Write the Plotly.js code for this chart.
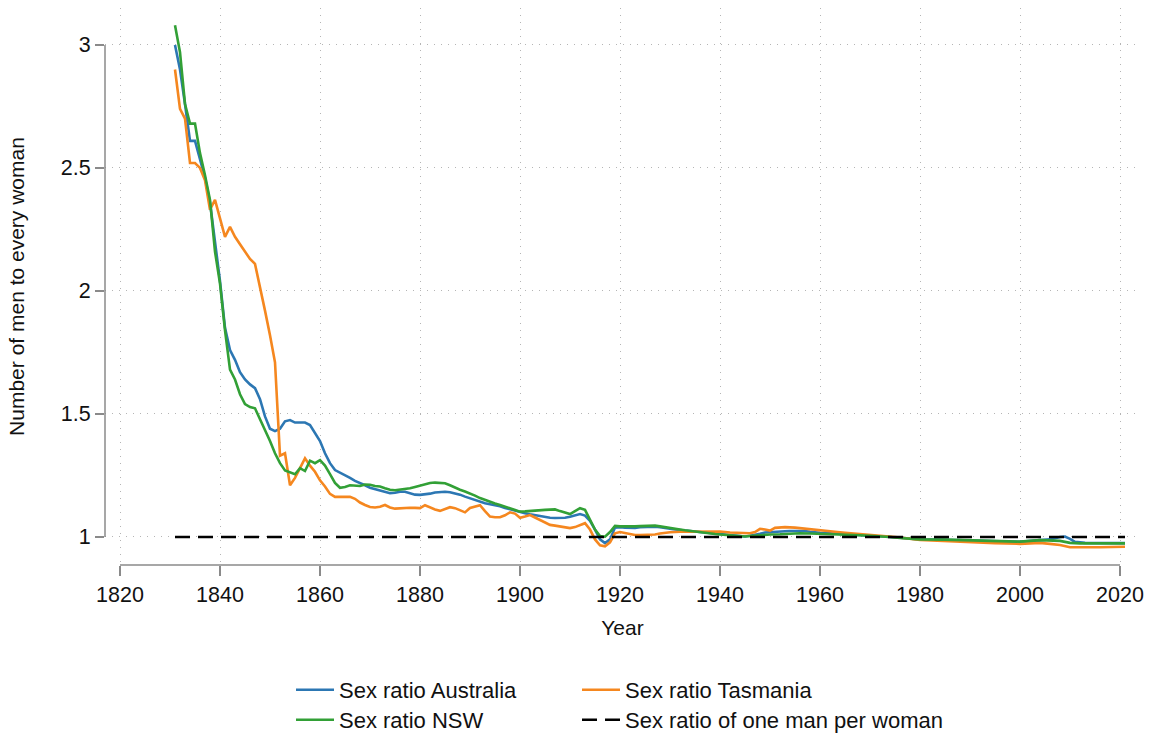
<!DOCTYPE html>
<html>
<head>
<meta charset="utf-8">
<script src="https://cdn.plot.ly/plotly-3.0.1.min.js"></script>
<style>html,body{margin:0;padding:0;background:#fff;}#chart{width:1155px;height:738px;}</style>
</head>
<body>
<div id="chart"></div>
<script>
// ---- Data ----
const ausYears = [1831,1832,1833,1834,1835,1836,1837,1838,1839,1840,1841,1842,1843,1844,1845,1846,1847,1848,1849,1850,
  1851,1852,1853,1854,1855,1856,1857,1858,1859,1860,1861,1862,1863,1864,1865,1866,1867,1868,1869,1870,
  1871,1872,1873,1874,1875,1876,1877,1878,1879,1880,1881,1882,1883,1884,1885,1886,1887,1888,1889,1890,
  1891,1892,1893,1894,1895,1896,1897,1898,1899,1900,1901,1902,1903,1904,1905,1906,1907,1908,1909,1910,
  1911,1912,1913,1914,1915,1916,1917,1918,1919,1920,1921,1922,1923,1924,1925,1926,1927,1928,1929,1930,
  1931,1932,1933,1934,1935,1936,1937,1938,1939,1940,1941,1942,1943,1944,1945,1946,1947,1948,1949,1950,
  1951,1952,1953,1954,1955,1956,1957,1958,1959,1960,1962,1964,1966,1968,1970,1972,1974,1976,1978,1980,
  1985,1990,1995,2000,2004,2006,2008,2009,2010,2011,2013,2016,2021];
const ausRatio = [3.00,2.90,2.76,2.61,2.61,2.54,2.46,2.36,2.20,2.04,1.85,1.76,1.72,1.67,1.64,1.62,1.605,1.56,1.49,1.44,
  1.43,1.44,1.47,1.475,1.465,1.465,1.465,1.455,1.42,1.39,1.34,1.30,1.272,1.262,1.25,1.24,1.228,1.22,1.21,1.20,
  1.195,1.19,1.182,1.178,1.18,1.184,1.184,1.178,1.172,1.171,1.173,1.176,1.181,1.183,1.184,1.182,1.178,1.172,1.164,1.157,
  1.150,1.142,1.137,1.133,1.130,1.125,1.118,1.112,1.106,1.100,1.096,1.092,1.088,1.084,1.080,1.078,1.077,1.076,1.078,1.082,
  1.088,1.093,1.087,1.065,1.030,0.990,0.975,0.990,1.038,1.040,1.038,1.036,1.037,1.040,1.041,1.042,1.042,1.040,1.036,1.033,
  1.030,1.028,1.027,1.025,1.022,1.020,1.018,1.016,1.015,1.013,1.011,1.009,1.006,1.003,1.002,1.005,1.008,1.013,1.018,1.020,
  1.021,1.022,1.023,1.024,1.025,1.026,1.024,1.021,1.018,1.017,1.015,1.013,1.011,1.009,1.006,1.004,1.000,0.997,0.994,0.990,
  0.988,0.986,0.984,0.980,0.987,0.990,1.000,1.002,0.992,0.980,0.976,0.975,0.975];

const tasYears = [1831,1832,1833,1834,1835,1836,1837,1838,1839,1840,1841,1842,1843,1844,1845,1846,1847,1848,1849,1850,
  1851,1852,1853,1854,1855,1856,1857,1858,1859,1860,1861,1862,1863,1864,1865,1866,1867,1868,1869,1870,
  1871,1872,1873,1874,1875,1876,1877,1878,1879,1880,1881,1882,1883,1884,1885,1886,1887,1888,1889,1890,
  1891,1892,1893,1894,1895,1896,1897,1898,1899,1900,1901,1902,1903,1904,1905,1906,1907,1908,1909,1910,
  1911,1912,1913,1914,1915,1916,1917,1918,1919,1920,1921,1922,1923,1924,1925,1926,1927,1928,1929,1930,
  1932,1934,1936,1938,1940,1942,1944,1946,1947,1948,1949,1950,1951,1952,1953,1955,1957,1959,1961,1963,
  1965,1967,1970,1972,1975,1980,1985,1990,1995,2000,2004,2006,2008,2010,2012,2016,2021];
const tasRatio = [2.90,2.74,2.70,2.52,2.52,2.50,2.45,2.33,2.37,2.30,2.22,2.26,2.22,2.19,2.16,2.13,2.11,2.02,1.92,1.82,
  1.71,1.33,1.34,1.21,1.24,1.28,1.32,1.29,1.265,1.23,1.205,1.175,1.163,1.163,1.163,1.163,1.155,1.14,1.13,1.122,
  1.12,1.123,1.13,1.12,1.115,1.117,1.118,1.119,1.118,1.117,1.129,1.12,1.112,1.106,1.112,1.121,1.117,1.108,1.10,1.118,
  1.125,1.129,1.105,1.083,1.080,1.080,1.088,1.10,1.095,1.078,1.083,1.089,1.079,1.069,1.058,1.049,1.046,1.042,1.040,1.036,
  1.040,1.049,1.056,1.030,0.990,0.966,0.962,0.978,1.015,1.020,1.015,1.010,1.008,1.008,1.008,1.008,1.010,1.014,1.018,1.019,
  1.021,1.022,1.022,1.022,1.022,1.018,1.015,1.015,1.020,1.033,1.030,1.026,1.037,1.039,1.040,1.038,1.033,1.028,1.025,1.021,
  1.017,1.014,1.010,1.007,1.000,0.988,0.983,0.980,0.975,0.972,0.976,0.972,0.967,0.958,0.957,0.958,0.960];

const nswYears = [1831,1832,1833,1834,1835,1836,1837,1838,1839,1840,1841,1842,1843,1844,1845,1846,1847,1848,1849,1850,
  1851,1852,1853,1854,1855,1856,1857,1858,1859,1860,1861,1862,1863,1864,1865,1866,1867,1868,1869,1870,
  1871,1872,1873,1874,1875,1876,1877,1878,1879,1880,1881,1882,1883,1884,1885,1886,1887,1888,1889,1890,
  1891,1892,1893,1894,1895,1896,1897,1898,1899,1900,1901,1902,1903,1904,1905,1906,1907,1908,1909,1910,
  1911,1912,1913,1914,1915,1916,1917,1918,1919,1920,1921,1922,1923,1924,1925,1926,1927,1928,1929,1930,
  1931,1932,1933,1934,1935,1936,1937,1938,1939,1940,1941,1942,1943,1944,1945,1946,1947,1948,1950,1952,
  1954,1956,1958,1960,1962,1964,1966,1968,1970,1972,1974,1976,1978,1980,1985,1990,1995,2000,2004,2006,
  2008,2010,2012,2016,2021];
const nswRatio = [3.08,2.97,2.76,2.68,2.68,2.56,2.47,2.37,2.16,2.03,1.84,1.68,1.64,1.58,1.54,1.528,1.523,1.48,1.43,1.39,
  1.34,1.30,1.27,1.262,1.255,1.28,1.268,1.31,1.30,1.312,1.29,1.255,1.22,1.20,1.203,1.21,1.208,1.207,1.213,1.212,
  1.207,1.205,1.198,1.192,1.19,1.192,1.197,1.198,1.203,1.208,1.215,1.219,1.221,1.221,1.218,1.210,1.200,1.192,1.185,1.178,
  1.168,1.158,1.150,1.142,1.136,1.130,1.124,1.118,1.110,1.103,1.104,1.106,1.108,1.109,1.110,1.111,1.112,1.105,1.098,1.093,
  1.105,1.117,1.110,1.070,1.030,1.004,1.001,1.020,1.045,1.043,1.042,1.042,1.043,1.044,1.045,1.046,1.046,1.043,1.039,1.035,
  1.032,1.030,1.027,1.024,1.021,1.019,1.017,1.014,1.012,1.010,1.008,1.005,1.003,1.002,1.002,1.004,1.006,1.008,1.010,1.011,
  1.013,1.015,1.014,1.013,1.012,1.010,1.008,1.007,1.005,1.004,1.000,0.996,0.993,0.990,0.989,0.987,0.985,0.981,0.987,0.986,
  0.984,0.976,0.974,0.974,0.974];

const refYears = [1831, 2021];
const refRatio = [1, 1];

const xTicks = [1820,1840,1860,1880,1900,1920,1940,1960,1980,2000,2020];
const yTicks = [1,1.5,2,2.5,3];
const yTickText = ['1','1.5','2','2.5','3'];

const names = ['Sex ratio Australia','Sex ratio Tasmania','Sex ratio NSW','Sex ratio of one man per woman'];

// ---- Chart ----
const FONT = 'Liberation Sans, Arial, Helvetica, sans-serif';
const traces = [
  {x: ausYears, y: ausRatio, name: names[0], mode: 'lines', line: {color: '#2c77b3', width: 2.6}, legend: 'legend'},
  {x: tasYears, y: tasRatio, name: names[1], mode: 'lines', line: {color: '#f5871f', width: 2.6}, legend: 'legend2'},
  {x: nswYears, y: nswRatio, name: names[2], mode: 'lines', line: {color: '#32a036', width: 2.6}, legend: 'legend3'},
  {x: refYears, y: refRatio, name: names[3], mode: 'lines', line: {color: '#000000', width: 2.6, dash: '15px,8px'}, legend: 'legend4'}
];

// plot area in pixels: left 105, top 8, width 1035, height 557
const PL = 105, PT = 8, PW = 1035, PH = 557;
const legBase = {orientation: 'v', xanchor: 'left', yanchor: 'middle',
  bgcolor: 'rgba(0,0,0,0)', font: {family: FONT, size: 22, color: '#111'}, itemwidth: 38};
function px(x){ return (x - PL) / PW; }
function py(y){ return (PT + PH - y) / PH; }

const layout = {
  width: 1155, height: 738,
  margin: {l: PL, r: 1155 - PL - PW, t: PT, b: 738 - PT - PH, autoexpand: false},
  paper_bgcolor: '#ffffff', plot_bgcolor: '#ffffff',
  font: {family: FONT, size: 21, color: '#111'},
  showlegend: true,
  xaxis: {
    range: [1817.0, 2024.0], tickvals: xTicks, ticktext: xTicks.map(String),
    showgrid: true, gridcolor: '#b5b5b5', gridwidth: 1, griddash: '1px,6px',
    zeroline: false, showline: false,
    ticks: 'outside', ticklen: 10, tickwidth: 1.5, tickcolor: '#8a8a8a',
    tickfont: {family: FONT, size: 21.5, color: '#111'},
    title: {text: 'Year', font: {family: FONT, size: 21, color: '#111'}, standoff: 14}
  },
  yaxis: {
    range: [0.886, 3.15], tickvals: yTicks, ticktext: yTickText,
    showgrid: true, gridcolor: '#b5b5b5', gridwidth: 1, griddash: '1px,6px',
    zeroline: false, showline: false,
    ticks: 'outside', ticklen: 9, tickwidth: 1.5, tickcolor: '#8a8a8a',
    tickfont: {family: FONT, size: 21.5, color: '#111'},
    title: {text: 'Number of men to every woman', font: {family: FONT, size: 21, color: '#111'}, standoff: 30}
  },
  shapes: [
    {type: 'line', xref: 'paper', yref: 'y', x0: 0, x1: 0, y0: 1, y1: 3, line: {color: '#8a8a8a', width: 1.5}},
    {type: 'line', xref: 'x', yref: 'paper', x0: 1820, x1: 2020, y0: 0, y1: 0, line: {color: '#8a8a8a', width: 1.5}}
  ],
  legend:  Object.assign({}, legBase, {x: px(291), y: py(690)}),
  legend2: Object.assign({}, legBase, {x: px(577), y: py(690)}),
  legend3: Object.assign({}, legBase, {x: px(291), y: py(720)}),
  legend4: Object.assign({}, legBase, {x: px(577), y: py(720)})
};

Plotly.newPlot('chart', traces, layout, {displayModeBar: false, staticPlot: true});
</script>
</body>
</html>
